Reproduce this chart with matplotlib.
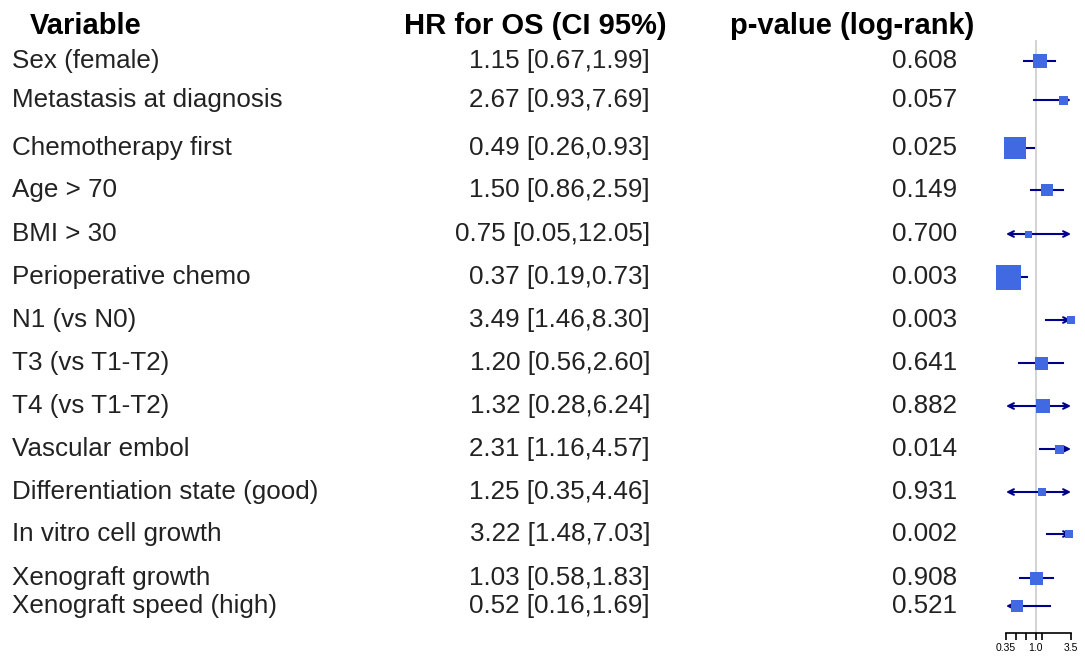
import numpy as np
import matplotlib
matplotlib.use("Agg")
from matplotlib import pyplot as plt

plt.rcParams['font.family'] = ['Liberation Sans', 'DejaVu Sans']

# Datos de la tabla
variables = ["Sex (female)", "Metastasis at diagnosis", "Chemotherapy first", "Age > 70",
             "BMI > 30", "Perioperative chemo", "N1 (vs N0)", "T3 (vs T1-T2)",
             "T4 (vs T1-T2)", "Vascular embol", "Differentiation state (good)",
             "In vitro cell growth", "Xenograft growth", "Xenograft speed (high)"]
hr = [1.15, 2.67, 0.49, 1.50, 0.75, 0.37, 3.49, 1.20, 1.32, 2.31, 1.25, 3.22, 1.03, 0.52]
ci_low = [0.67, 0.93, 0.26, 0.86, 0.05, 0.19, 1.46, 0.56, 0.28, 1.16, 0.35, 1.48, 0.58, 0.16]
ci_high = [1.99, 7.69, 0.93, 2.59, 12.05, 0.73, 8.30, 2.60, 6.24, 4.57, 4.46, 7.03, 1.83, 1.69]
pvals = ["0.608", "0.057", "0.025", "0.149", "0.700", "0.003", "0.003", "0.641",
         "0.882", "0.014", "0.931", "0.002", "0.908", "0.521"]
# tamaño de la caja (peso)
box_size = [14, 9, 22, 12, 7, 25, 8, 13, 14, 9, 8, 8, 13, 12]

# posiciones verticales de las filas (pixeles desde arriba)
row_y = [61, 100, 148, 190, 234, 277, 320, 363, 406, 449, 492, 534, 578, 606]
header_y = 26

W, H = 1085, 669
clip = (0.35, 3.5)
box_color = '#4169E1'
line_color = '#00008B'
txt_color = '#222222'

fig = plt.figure(figsize=(W / 100, H / 100), dpi=100)

# Eje de fondo en coordenadas de pixeles
bg = fig.add_axes([0, 0, 1, 1])
bg.set_xlim(0, W)
bg.set_ylim(H, 0)
bg.axis('off')

fs = 18.7
fs_h = 21
bg.text(30, header_y, "Variable", fontsize=fs_h, fontweight='bold', va='center', ha='left')
bg.text(535, header_y, "HR for OS (CI 95%)", fontsize=fs_h, fontweight='bold', va='center', ha='center')
bg.text(852, header_y, "p-value (log-rank)", fontsize=fs_h, fontweight='bold', va='center', ha='center')

for i in range(len(variables)):
    y = row_y[i]
    bg.text(12, y, variables[i], fontsize=fs, va='center', ha='left', color=txt_color)
    lab = "%.2f [%.2f,%.2f]" % (hr[i], ci_low[i], ci_high[i])
    bg.text(650, y, lab, fontsize=fs, va='center', ha='right', color=txt_color)
    bg.text(957, y, pvals[i], fontsize=fs, va='center', ha='right', color=txt_color)

# Gráfico de bosque
ax = fig.add_axes([1006 / W, (H - 633) / H, 65 / W, 633 / H])
ax.set_xscale('log')
ax.set_xlim(clip[0], clip[1])
ax.set_ylim(633, 0)
ax.patch.set_alpha(0)
for s in ['top', 'left', 'right']:
    ax.spines[s].set_visible(False)
ax.spines['bottom'].set_linewidth(1.2)
ax.set_yticks([])

ax.vlines(1.0, 40, 633, color='#cccccc', lw=1.2, zorder=1)

arrow = dict(arrowstyle='->', color=line_color, lw=1.5, mutation_scale=10, shrinkA=0, shrinkB=0)
for i in range(len(hr)):
    y = row_y[i]
    lo, hi, est = ci_low[i], ci_high[i], hr[i]
    a = max(lo, clip[0])
    b = min(hi, clip[1])
    if lo > clip[0] and hi < clip[1]:
        ax.plot([a, b], [y, y], color=line_color, lw=1.5, zorder=2)
    else:
        if lo <= clip[0]:
            ax.annotate('', xy=(clip[0], y), xytext=(est, y), arrowprops=arrow, zorder=2)
        else:
            ax.plot([a, est], [y, y], color=line_color, lw=1.5, zorder=2)
        if hi >= clip[1]:
            ax.annotate('', xy=(clip[1], y), xytext=(est, y), arrowprops=arrow, zorder=2)
        else:
            ax.plot([est, b], [y, y], color=line_color, lw=1.5, zorder=2)
    ax.plot(est, y, marker='s', color=box_color, markersize=box_size[i] * 0.72,
            markeredgewidth=0, zorder=3, clip_on=False)

ax.set_xticks([0.35, 0.5, 0.7, 1.0, 1.25, 3.5])
ax.set_xticklabels(["0.35", "", "", "1.0", "", "3.5"])
ax.xaxis.set_minor_locator(matplotlib.ticker.NullLocator())
ax.tick_params(axis='x', labelsize=7.5, length=5, width=1.2, pad=2)

fig.savefig("out.png", dpi=100)
